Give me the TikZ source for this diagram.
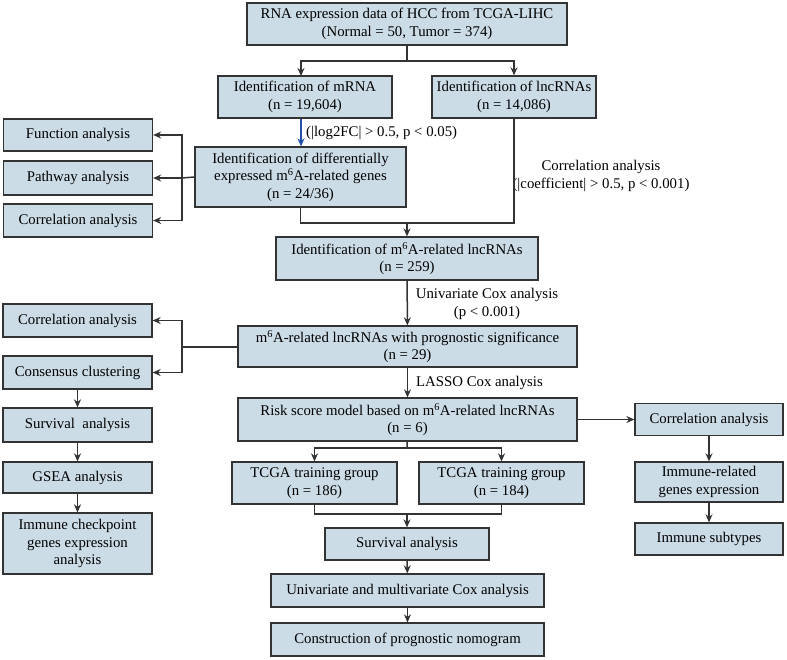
\documentclass[tikz,border=0pt]{standalone}
\usepackage{fontspec}
\setmainfont{Liberation Serif}
\usepackage{xcolor}
\usepackage{tikz}
\usetikzlibrary{positioning, arrows.meta}

\definecolor{boxfill}{HTML}{CCDCE6}
\definecolor{boxline}{HTML}{333333}
\definecolor{bluearrow}{HTML}{1F4FA8}

\begin{document}
\begin{tikzpicture}[x=1pt, y=-1pt,
    font=\fontsize{14.8}{17.4}\selectfont,
    box/.style={draw=boxline, fill=boxfill, line width=1.3pt, align=center, inner sep=2pt},
    lbl/.style={align=center, inner sep=0pt},
    line/.style={draw=boxline, line width=1.5pt},
    arr/.style={line, -{Stealth[length=8pt, width=7pt]}}]
    \useasboundingbox (0,0) rectangle (787,659);

    % Nodes
    \node[box, minimum width=320, minimum height=42] (data) at (407,24) {RNA expression data of HCC from TCGA-LIHC\\(Normal = 50, Tumor = 374)};
    \node[box, minimum width=174, minimum height=42] (mrna) at (305,97) {Identification of mRNA\\(n = 19,604)};
    \node[box, minimum width=164, minimum height=42] (lnc) at (514,97) {Identification of lncRNAs\\(n = 14,086)};
    \node[box, minimum width=211, minimum height=60] (deg) at (300.5,177) {Identification of differentially\\expressed m\textsuperscript{6}A-related genes\\(n = 24/36)};
    \node[box, minimum width=149, minimum height=32] (func) at (78,135) {Function analysis};
    \node[box, minimum width=149, minimum height=34] (path) at (78,178) {Pathway analysis};
    \node[box, minimum width=149, minimum height=33] (corr1) at (78,220.5) {Correlation analysis};
    \node[box, minimum width=262, minimum height=43] (mlnc) at (407,258.5) {Identification of m\textsuperscript{6}A-related lncRNAs\\(n = 259)};
    \node[box, minimum width=339, minimum height=41] (prog) at (407.5,346.5) {m\textsuperscript{6}A-related lncRNAs with prognostic significance\\(n = 29)};
    \node[box, minimum width=149, minimum height=33] (corr2) at (77.5,320.5) {Correlation analysis};
    \node[box, minimum width=149, minimum height=33] (cons) at (77.5,372.5) {Consensus clustering};
    \node[box, minimum width=149, minimum height=34] (surv1) at (77.5,425) {Survival\ \ analysis};
    \node[box, minimum width=149, minimum height=31] (gsea) at (77.5,477.5) {GSEA analysis};
    \node[box, minimum width=149, minimum height=61] (immck) at (77.5,543.5) {Immune checkpoint\\genes expression\\analysis};
    \node[box, minimum width=339, minimum height=43] (risk) at (407.5,419.5) {Risk score model based on m\textsuperscript{6}A-related lncRNAs\\(n = 6)};
    \node[box, minimum width=148, minimum height=32] (corr3) at (709,419.5) {Correlation analysis};
    \node[box, minimum width=148, minimum height=40] (immrel) at (709,482) {Immune-related\\genes expression};
    \node[box, minimum width=148, minimum height=32] (immsub) at (709,539) {Immune subtypes};
    \node[box, minimum width=165, minimum height=42] (train1) at (314.5,483) {TCGA training group\\(n = 186)};
    \node[box, minimum width=165, minimum height=42] (train2) at (501.5,483) {TCGA training group\\(n = 184)};
    \node[box, minimum width=164, minimum height=32] (surv2) at (407,544) {Survival analysis};
    \node[box, minimum width=273, minimum height=33] (unimulti) at (407.5,590.5) {Univariate and multivariate Cox analysis};
    \node[box, minimum width=273, minimum height=33] (nomo) at (407.5,639.5) {Construction of prognostic nomogram};

    % Labels
    \node[lbl, anchor=west] (lfc) at (306,133) {(|log2FC| > 0.5, p < 0.05)};
    \node[lbl] (corlbl) at (601,176) {Correlation analysis\\(|coefficient| > 0.5, p < 0.001)};
    \node[lbl] (coxlbl) at (487,304) {Univariate Cox analysis\\(p < 0.001)};
    \node[lbl, anchor=west] (lasso) at (416,383) {LASSO Cox analysis};

    % Junctions
    \coordinate (split1) at (407,61);
    \coordinate (split2) at (182,178);
    \coordinate (merge1) at (407,223);
    \coordinate (split3) at (182,347);
    \coordinate (split4) at (407,448);
    \coordinate (merge2) at (407,514);
    \coordinate (mtop) at (301,76);

    % Arrows
    \draw[line] (data) -- (split1);
    \draw[arr] (split1) -| (mtop);
    \draw[arr] (split1) -| (lnc);
    \draw[line, draw=bluearrow, -{Stealth[length=8pt, width=7pt]}] (mtop |- mrna.south) -- (mtop |- deg.north);

    \draw[line] (deg.west) -- (split2);
    \draw[arr] (split2) |- (func);
    \draw[arr] (split2) -- (path);
    \draw[arr] (split2) |- (corr1);

    \draw[line] (deg.south) |- (merge1) -- (lnc.south |- merge1) -- (lnc.south);
    \draw[arr] (merge1) -- (mlnc);
    \draw[arr] (mlnc) -- (prog);

    \draw[line] (prog.west |- split3) -- (split3);
    \draw[arr] (split3) |- (corr2);
    \draw[arr] (split3) |- (cons);
    \draw[arr] (cons) -- (surv1);
    \draw[arr] (surv1) -- (gsea);
    \draw[arr] (gsea) -- (immck);

    \draw[arr] (prog) -- (risk);
    \draw[arr] (risk.east) -- (corr3.west);
    \draw[arr] (corr3) -- (immrel);
    \draw[arr] (immrel) -- (immsub);

    \draw[line] (risk) -- (split4);
    \draw[arr] (split4) -| (train1);
    \draw[arr] (split4) -| (train2);
    \draw[line] (train1.south) |- (merge2) -| (train2.south);
    \draw[arr] (merge2) -- (surv2);
    \draw[arr] (surv2) -- (unimulti);
    \draw[arr] (unimulti) -- (nomo);
\end{tikzpicture}
\end{document}
